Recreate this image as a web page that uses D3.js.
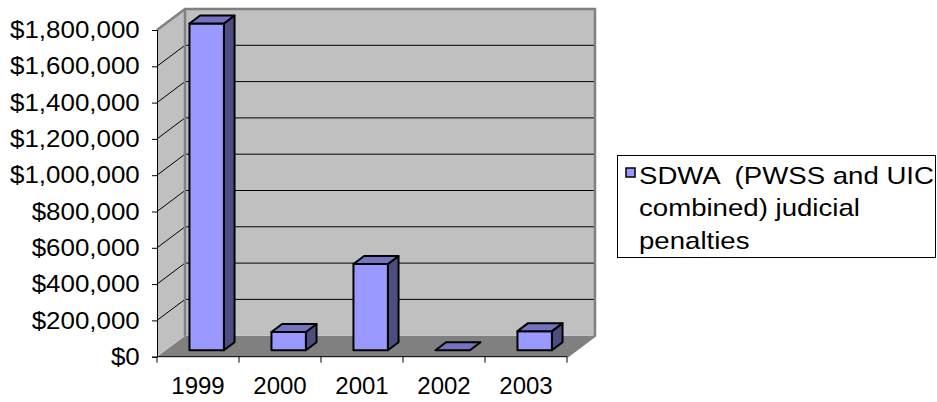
<!DOCTYPE html>
<html>
<head>
<meta charset="utf-8">
<script src="https://cdn.jsdelivr.net/npm/d3@7/dist/d3.min.js"></script>
<style>
  html, body { margin: 0; padding: 0; background: #fff; }
  svg { display: block; font-family: "Liberation Sans", Arial, sans-serif; }
</style>
</head>
<body>
<svg id="chart" width="937" height="402"></svg>
<script>
// Yearly SDWA judicial penalties
const years = ["1999", "2000", "2001", "2002", "2003"];
const penalties = [1800000, 100000, 475000, 0, 105000];
const yTicks = [0, 200000, 400000, 600000, 800000, 1000000, 1200000, 1400000, 1600000, 1800000];
const seriesName = ["SDWA  (PWSS and UIC", "combined) judicial", "penalties"];

const svg = d3.select("#chart");
const FONT = "'Liberation Sans', Arial, sans-serif";

// Front plane of the 3D box and the depth offset of its back wall
const front = { left: 157, right: 567, top: 30, bottom: 356.7 };
const depth = { dx: 28, dy: -21 };
const barDepth = [0.31, 0.69];
const barWidthFrac = 0.42;

const x = d3.scaleBand().domain(years).range([front.left, front.right]);
const y = d3.scaleLinear().domain([0, 1800000]).range([front.bottom, front.top]);

const P = (px, py, d) => [px + d * depth.dx, py + d * depth.dy];
const poly = pts => pts.map(p => p.join(",")).join(" ");

const gWalls = svg.append("g");
const y0 = y(0), yMax = y(1800000);

// floor
gWalls.append("polygon")
  .attr("points", poly([P(front.left, y0, 0), P(front.right, y0, 0), P(front.right, y0, 1), P(front.left, y0, 1)]))
  .attr("fill", "#808080");
// side wall
gWalls.append("polygon")
  .attr("points", poly([P(front.left, y0, 0), P(front.left, y0, 1), P(front.left, yMax, 1), P(front.left, yMax, 0)]))
  .attr("fill", "#c0c0c0");
// back wall
gWalls.append("polygon")
  .attr("points", poly([P(front.left, y0, 1), P(front.right, y0, 1), P(front.right, yMax, 1), P(front.left, yMax, 1)]))
  .attr("fill", "#c0c0c0");

// gridlines on side and back walls
const grid = yTicks.filter(v => v > 0 && v < 1800000);
gWalls.selectAll("line.gb").data(grid).join("line")
  .attr("x1", v => P(front.left, y(v), 1)[0]).attr("y1", v => P(front.left, y(v), 1)[1])
  .attr("x2", v => P(front.right, y(v), 1)[0]).attr("y2", v => P(front.right, y(v), 1)[1])
  .attr("stroke", "#000").attr("stroke-width", 1);
gWalls.selectAll("line.gs").data(grid).join("line")
  .attr("x1", v => P(front.left, y(v), 0)[0]).attr("y1", v => P(front.left, y(v), 0)[1])
  .attr("x2", v => P(front.left, y(v), 1)[0]).attr("y2", v => P(front.left, y(v), 1)[1])
  .attr("stroke", "#000").attr("stroke-width", 1);

// wall edges
gWalls.append("polyline")
  .attr("points", poly([P(front.left, yMax, 0), P(front.left, yMax, 1), P(front.right, yMax, 1), P(front.right, y0, 1), P(front.right, y0, 0)]))
  .attr("fill", "none").attr("stroke", "#808080").attr("stroke-width", 2.5);
gWalls.append("line")
  .attr("x1", P(front.left, y0, 1)[0]).attr("y1", P(front.left, y0, 1)[1])
  .attr("x2", P(front.left, yMax, 1)[0]).attr("y2", P(front.left, yMax, 1)[1])
  .attr("stroke", "#808080").attr("stroke-width", 2.5);

// bars
const bw = x.bandwidth() * barWidthFrac;
const gBars = svg.append("g")
  .attr("stroke", "#000").attr("stroke-width", 2).attr("stroke-linejoin", "round");
years.forEach((yr, i) => {
  const xa = x(yr) + (x.bandwidth() - bw) / 2, xb = xa + bw;
  const yv = y(penalties[i]);
  const [d0, d1] = barDepth;
  const g = gBars.append("g");
  if (penalties[i] > 0) {
    g.append("polygon")
      .attr("points", poly([P(xb, yv, d0), P(xb, y0, d0), P(xb, y0, d1), P(xb, yv, d1)]))
      .attr("fill", "#4d4d80");
    g.append("polygon")
      .attr("points", poly([P(xa, yv, d0), P(xb, yv, d0), P(xb, y0, d0), P(xa, y0, d0)]))
      .attr("fill", "#9999ff");
  }
  g.append("polygon")
    .attr("points", poly([P(xa, yv, d0), P(xb, yv, d0), P(xb, yv, d1), P(xa, yv, d1)]))
    .attr("fill", "#7373bf");
});

// value axis
const yAxis = svg.append("g")
  .attr("transform", `translate(${front.left},0)`)
  .call(d3.axisLeft(y).tickValues(yTicks).tickFormat(d3.format("$,")).tickSize(5).tickPadding(11));
yAxis.select(".domain").attr("stroke", "#000");
yAxis.selectAll(".tick line").attr("stroke", "#000");
yAxis.selectAll("text").attr("font-size", 24).attr("fill", "#000")
  .attr("font-family", FONT).attr("transform", "scale(1.08,1)");

// category axis
const gx = svg.append("g");
gx.append("line")
  .attr("x1", front.left).attr("x2", front.right).attr("y1", y0).attr("y2", y0)
  .attr("stroke", "#000");
const bounds = years.map(v => x(v)).concat([front.right]);
gx.selectAll("line.t").data(bounds).join("line")
  .attr("x1", d => d).attr("x2", d => d).attr("y1", y0).attr("y2", y0 + 6)
  .attr("stroke", "#000");
gx.selectAll("text").data(years).join("text")
  .attr("x", d => x(d) + x.bandwidth() / 2).attr("y", 394)
  .attr("text-anchor", "middle").attr("font-size", 24).attr("fill", "#000")
  .text(d => d);

// legend
const lg = svg.append("g");
lg.append("rect").attr("x", 617.5).attr("y", 155.5).attr("width", 318).attr("height", 102)
  .attr("fill", "#fff").attr("stroke", "#000");
lg.append("rect").attr("x", 626).attr("y", 168).attr("width", 9).attr("height", 9)
  .attr("fill", "#9999ff").attr("stroke", "#000").attr("stroke-width", 1.5);
lg.append("g").attr("transform", "translate(639,0) scale(1.15,1)")
  .selectAll("text").data(seriesName).join("text")
  .attr("x", 0).attr("y", (d, i) => 184 + i * 32.5)
  .attr("font-size", 24).attr("fill", "#000")
  .style("white-space", "pre")
  .text(d => d);
</script>
</body>
</html>
